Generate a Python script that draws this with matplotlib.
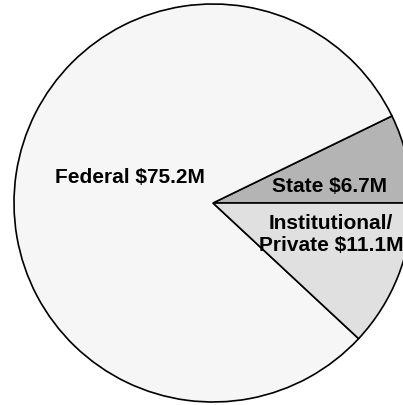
import matplotlib
matplotlib.use("Agg")
import matplotlib.pyplot as plt

categories = ["State", "Federal", "Institutional/Private"]
values = [6.7, 75.2, 11.1]
labels = ["State $6.7M", "Federal $75.2M", "Institutional/\nPrivate $11.1M"]
colors = ["#b4b4b4", "#f6f6f6", "#e0e0e0"]

W, H = 403, 406
fig = plt.figure(figsize=(W / 100, H / 100), dpi=100)
ax = fig.add_axes([0, 0, 1, 1])

cx, cy, r = 213, H - 204, 199
ax.pie(values, colors=colors, startangle=0, counterclock=True,
       center=(cx, cy), radius=r, frame=True,
       wedgeprops=dict(edgecolor="black", linewidth=1.2))
ax.set_xlim(0, W)
ax.set_ylim(0, H)
ax.set_aspect("equal")
ax.axis("off")

font = dict(family=["Liberation Sans", "DejaVu Sans"], fontweight="bold",
            fontsize=15, ha="center", va="baseline")
ax.text(130, H - 183, labels[1], **font)
ax.text(330, H - 192, labels[0], **font)
line1, line2 = labels[2].split("\n")
ax.text(331, H - 229, line1, **font)
ax.text(331, H - 251, line2, **font)

fig.savefig("out.png", dpi=100)
